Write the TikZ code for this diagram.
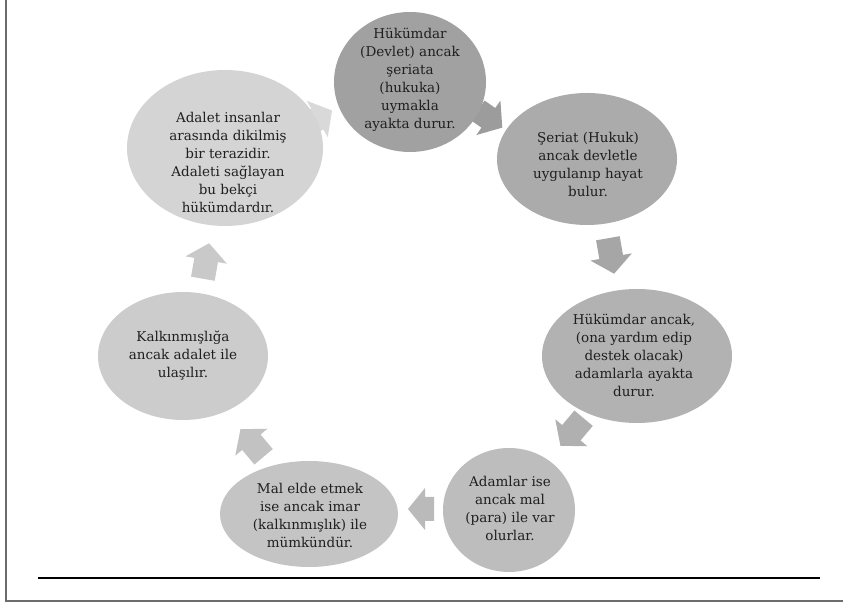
\documentclass[tikz,border=0pt]{standalone}
\usepackage{fontspec}
\setmainfont{DejaVu Serif}
\usetikzlibrary{shapes.geometric}
\tikzset{
  ell/.style={ellipse, draw=none, inner sep=0pt},
  txt/.style={align=center, inner sep=0pt, text=black!88, font=\fontsize{13.5}{18}\selectfont},
}
\newcommand\blkarrow[4]{% center, angle, length, colour
  \fill[#4, shift={(#1)}, rotate=#2]
    (-#3/2,-12) -- (#3/2-17,-12) -- (#3/2-17,-21) -- (#3/2,0)
    -- (#3/2-17,21) -- (#3/2-17,12) -- (-#3/2,12) -- cycle;}
\begin{document}
\begin{tikzpicture}[x=1pt,y=1pt]
\useasboundingbox (0,0) rectangle (843,604);
% frame
\draw[line width=2pt, gray!85!black] (6,604) -- (6,3) -- (843,3);
\draw[line width=1.5pt, black] (38,26) -- (820,26);
% arrows (drawn under the ellipses)
\blkarrow{490,485}{-35}{30}{black!39}
\blkarrow{611,348}{-80}{36}{black!35}
\blkarrow{572,172}{-130}{36}{black!31}
\blkarrow{421,95}{180}{26}{black!27}
\blkarrow{252,161}{130}{36}{black!24}
\blkarrow{206,343}{80}{36}{black!21}
\blkarrow{319,486}{30}{30}{black!15}
% ellipses
\node[ell, fill=black!37, minimum width=152pt, minimum height=140pt] (e1) at (410,522) {};
\node[ell, fill=black!33, minimum width=180pt, minimum height=132pt] (e2) at (587,445) {};
\node[ell, fill=black!30, minimum width=190pt, minimum height=134pt] (e3) at (637,248) {};
\node[ell, fill=black!26, minimum width=132pt, minimum height=124pt] (e4) at (509,94) {};
\node[ell, fill=black!23, minimum width=178pt, minimum height=106pt] (e5) at (309,90) {};
\node[ell, fill=black!20, minimum width=170pt, minimum height=128pt] (e6) at (183,248) {};
\node[ell, fill=black!17, minimum width=196pt, minimum height=156pt] (e7) at (225,456) {};
% texts
\node[txt] (t1) at (410,524) {Hükümdar\\(Devlet) ancak\\şeriata\\(hukuka)\\uymakla\\ayakta durur.};
\node[txt] (t2) at (588,440) {Şeriat (Hukuk)\\ancak devletle\\uygulanıp hayat\\bulur.};
\node[txt] (t3) at (634,249) {Hükümdar ancak,\\(ona yardım edip\\destek olacak)\\adamlarla ayakta\\durur.};
\node[txt] (t4) at (510,96) {Adamlar ise\\ancak mal\\(para) ile var\\olurlar.};
\node[txt] (t5) at (310,89) {Mal elde etmek\\ise ancak imar\\(kalkınmışlık) ile\\mümkündür.};
\node[txt] (t6) at (183,248) {Kalkınmışlığa\\ancak adalet ile\\ulaşılır.};
\node[txt] (t7) at (228,442) {Adalet insanlar\\arasında dikilmiş\\bir terazidir.\\Adaleti sağlayan\\bu bekçi\\hükümdardır.};
\end{tikzpicture}
\end{document}
